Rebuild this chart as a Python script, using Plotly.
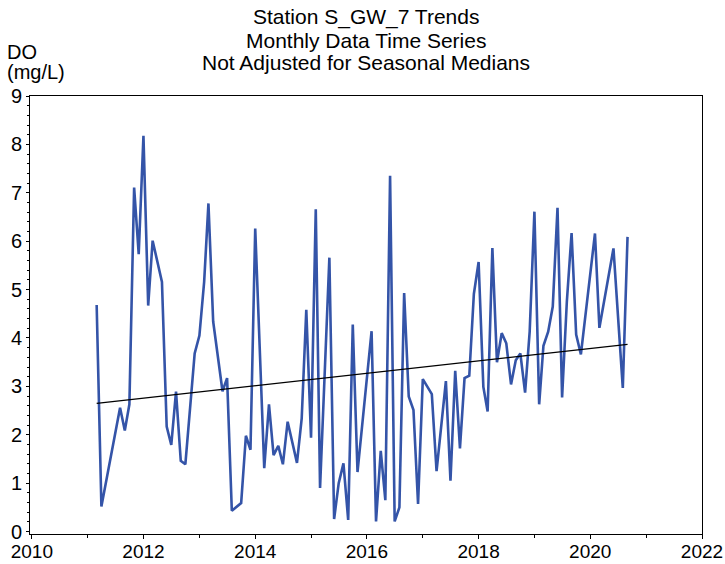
import plotly.graph_objects as go

# ---- data ----
months = [
    "2011-03", "2011-04", "2011-08", "2011-09", "2011-10", "2011-11", "2011-12",
    "2012-01", "2012-02", "2012-03", "2012-05", "2012-06", "2012-07", "2012-08", "2012-09", "2012-10", "2012-12",
    "2013-01", "2013-02", "2013-03", "2013-04", "2013-06", "2013-07", "2013-08", "2013-10", "2013-11", "2013-12",
    "2014-01", "2014-03", "2014-04", "2014-05", "2014-06", "2014-07", "2014-08", "2014-10", "2014-11", "2014-12",
    "2015-01", "2015-02", "2015-03", "2015-05", "2015-06", "2015-07", "2015-08", "2015-09", "2015-10", "2015-11",
    "2016-02", "2016-03", "2016-04", "2016-05", "2016-06", "2016-07", "2016-08", "2016-09", "2016-10", "2016-11", "2016-12",
    "2017-01", "2017-03", "2017-04", "2017-06", "2017-07", "2017-08", "2017-09", "2017-10", "2017-11", "2017-12",
    "2018-01", "2018-02", "2018-03", "2018-04", "2018-05", "2018-06", "2018-07", "2018-08", "2018-09", "2018-10", "2018-11", "2018-12",
    "2019-01", "2019-02", "2019-03", "2019-04", "2019-05", "2019-06", "2019-07", "2019-08", "2019-09", "2019-10", "2019-11",
    "2020-02", "2020-03", "2020-06", "2020-08", "2020-09",
]
do_values = [
    4.68, 0.52, 2.56, 2.09, 2.63, 7.11, 5.73,
    8.18, 4.67, 6.01, 5.16, 2.17, 1.79, 2.89, 1.46, 1.39, 3.68,
    4.05, 5.16, 6.78, 4.34, 2.90, 3.17, 0.43, 0.59, 1.98, 1.69,
    6.26, 1.31, 2.63, 1.58, 1.77, 1.39, 2.27, 1.42, 2.34, 4.58,
    1.94, 6.66, 0.90, 5.66, 0.26, 1.00, 1.41, 0.24, 4.28, 1.23,
    4.14, 0.21, 1.67, 0.65, 7.35, 0.21, 0.50, 4.93, 2.79, 2.51, 0.57,
    3.15, 2.84, 1.25, 3.11, 1.05, 3.32, 1.72, 3.17, 3.22, 4.91,
    5.57, 2.99, 2.48, 5.86, 3.50, 4.10, 3.89, 3.04, 3.54, 3.68, 2.87, 4.13,
    6.61, 2.63, 3.84, 4.13, 4.65, 6.69, 2.77, 4.75, 6.17, 4.07, 3.66,
    6.16, 4.21, 5.85, 2.97, 6.09,
]
trend_months = ["2011-03", "2020-09"]
trend_values = [2.65, 3.87]

title_lines = ["Station S_GW_7 Trends", "Monthly Data Time Series", "Not Adjusted for Seasonal Medians"]
y_label_lines = ["DO", "(mg/L)"]

FONT = "Liberation Sans, Arial, sans-serif"

fig = go.Figure()
fig.add_trace(go.Scatter(
    x=[m + "-01" for m in months], y=do_values, mode="lines",
    line=dict(color="#3454a8", width=2.6), showlegend=False, hoverinfo="x+y",
))
fig.add_trace(go.Scatter(
    x=[m + "-01" for m in trend_months], y=trend_values, mode="lines",
    line=dict(color="black", width=1.3), showlegend=False,
))

W, H = 725, 564
ml, mr, mt, mb = 30, 23, 96, 30
ph = H - mt - mb

def ypaper(px):
    return (H - mb - px) / ph

annotations = []
for txt, py in zip(title_lines, [17, 40, 63]):
    annotations.append(dict(text=txt, xref="paper", yref="paper", x=0.5, y=ypaper(py),
                            xanchor="center", yanchor="middle", showarrow=False,
                            font=dict(family=FONT, size=21, color="black")))
for txt, py in zip(y_label_lines, [52, 72]):
    annotations.append(dict(text=txt, xref="paper", yref="paper", x=-(ml - 5) / (W - ml - mr), y=ypaper(py),
                            xanchor="left", yanchor="middle", showarrow=False,
                            font=dict(family=FONT, size=20, color="black")))

fig.update_layout(
    width=W, height=H,
    margin=dict(l=ml, r=mr, t=mt, b=mb, pad=0, autoexpand=False),
    paper_bgcolor="white", plot_bgcolor="white",
    font=dict(family=FONT, size=19, color="black"),
    annotations=annotations,
    xaxis=dict(
        type="date", range=["2009-12-20", "2022-01-01"],
        tick0="2010-01-01", dtick="M24", tickformat="%Y",
        ticks="outside", ticklen=4, tickcolor="black", tickwidth=1,
        minor=dict(dtick="M12", ticks="outside", ticklen=3, tickcolor="black"),
        showline=True, linecolor="black", linewidth=1, mirror=True,
        showgrid=False, zeroline=False, automargin=False,
        ticklabelstandoff=-4,
        tickfont=dict(family=FONT, size=19, color="black"),
    ),
    yaxis=dict(
        range=[-0.05, 9], dtick=1, tick0=0,
        ticks="outside", ticklen=3, tickcolor="black", tickwidth=1,
        minor=dict(dtick=0.2, ticks="outside", ticklen=2, tickcolor="black"),
        showline=True, linecolor="black", linewidth=1, mirror=True,
        showgrid=False, zeroline=False, automargin=False,
        tickfont=dict(family=FONT, size=20, color="black"),
    ),
)

fig.write_html("out.html", config={"displayModeBar": False},
               post_script="document.body.style.margin='0';document.body.style.overflow='hidden';")
